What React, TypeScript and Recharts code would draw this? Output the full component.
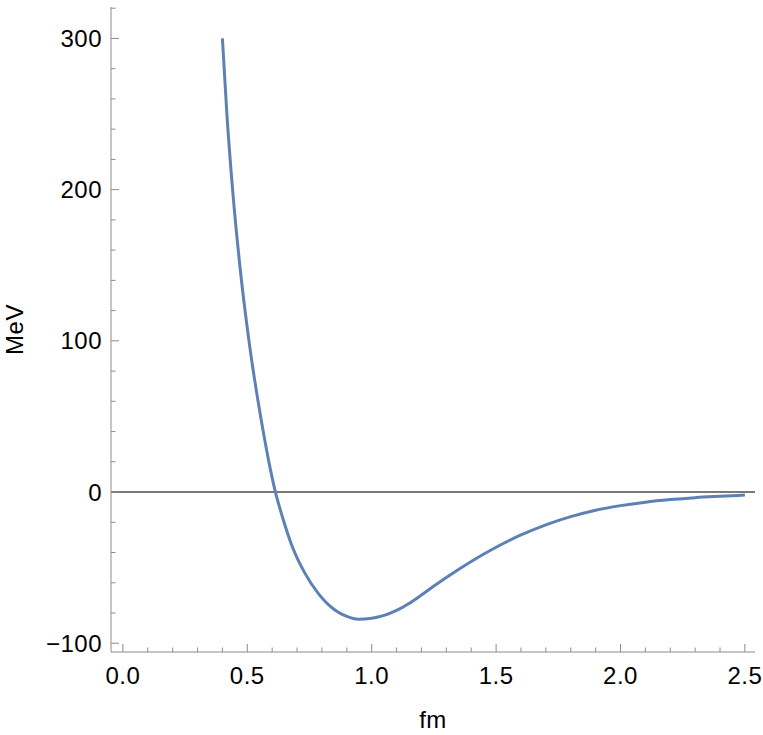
import React from 'react';
import { LineChart, Line, XAxis, YAxis, ReferenceLine, Label } from 'recharts';

const distanceFm = [0.40, 0.418, 0.4409, 0.4699, 0.5067, 0.5536, 0.6131, 0.645, 0.681, 0.732, 0.785, 0.852, 0.90, 0.946, 1.0, 1.05, 1.10, 1.15, 1.20, 1.25, 1.30, 1.40, 1.50, 1.60, 1.70, 1.80, 1.90, 2.00, 2.10, 2.20, 2.30, 2.40, 2.50];
const potentialMeV = [300, 250, 200, 150, 100, 50, 0, -18.5, -36.2, -53.8, -67, -78, -82.3, -84.2, -83.5, -81.6, -78.3, -73.7, -68.1, -62.2, -56.5, -45.9, -36.5, -28.4, -21.7, -16.3, -12.0, -9.0, -6.7, -5.0, -3.7, -2.8, -2.0];

const xMajorTicks = [0, 0.5, 1, 1.5, 2, 2.5];
const xTickLabels = ['0.0', '0.5', '1.0', '1.5', '2.0', '2.5'];
const xMinorTicks = [0.1, 0.2, 0.3, 0.4, 0.6, 0.7, 0.8, 0.9, 1.1, 1.2, 1.3, 1.4, 1.6, 1.7, 1.8, 1.9, 2.1, 2.2, 2.3, 2.4];
const yMajorTicks = [-100, 0, 100, 200, 300];
const yTickLabels = ['\u2212100', '0', '100', '200', '300'];
const yMinorTicks = [-80, -60, -40, -20, 20, 40, 60, 80, 120, 140, 160, 180, 220, 240, 260, 280, 320];

const xLabel = 'fm';
const yLabel = 'MeV';

const data = distanceFm.map((x, i) => ({ x, v: potentialMeV[i] }));
const xAllTicks = [...xMajorTicks, ...xMinorTicks].sort((a, b) => a - b);
const yAllTicks = [...yMajorTicks, ...yMinorTicks].sort((a, b) => a - b);

const FRAME = '#8c8c8c';
const FONT = '"Liberation Sans", Arial, sans-serif';
const FS = 24;
const MAJOR = 8;
const MINOR = 4.5;

const majorIdx = (arr: number[], v: number) => arr.findIndex((m) => Math.abs(m - v) < 1e-6);

const textStyle = { fontFamily: FONT, fontSize: FS, fill: '#000', letterSpacing: 0.5 };

const BottomTick = (props: any) => {
  const { x, y, payload } = props;
  const idx = majorIdx(xMajorTicks, payload.value);
  const major = idx >= 0;
  return (
    <g>
      <line x1={x} x2={x} y1={y} y2={y - (major ? MAJOR : MINOR)} stroke={FRAME} strokeWidth={1} />
      {major && (
        <text x={x} y={y + 32} textAnchor="middle" style={textStyle}>
          {xTickLabels[idx]}
        </text>
      )}
    </g>
  );
};

const TopTick = (props: any) => {
  const { x, y, payload } = props;
  const major = majorIdx(xMajorTicks, payload.value) >= 0;
  return <line x1={x} x2={x} y1={y} y2={y + (major ? MAJOR : MINOR)} stroke={FRAME} strokeWidth={1} />;
};

const LeftTick = (props: any) => {
  const { x, y, payload } = props;
  const idx = majorIdx(yMajorTicks, payload.value);
  const major = idx >= 0;
  return (
    <g>
      <line x1={x} x2={x + (major ? MAJOR : MINOR)} y1={y} y2={y} stroke={FRAME} strokeWidth={1} />
      {major && (
        <text x={x - 9} y={y + 8.5} textAnchor="end" style={textStyle}>
          {yTickLabels[idx]}
        </text>
      )}
    </g>
  );
};

const RightTick = (props: any) => {
  const { x, y, payload } = props;
  const major = majorIdx(yMajorTicks, payload.value) >= 0;
  return <line x1={x} x2={x - (major ? MAJOR : MINOR)} y1={y} y2={y} stroke={FRAME} strokeWidth={1} />;
};

const XLabelContent = (props: any) => {
  const vb = props.viewBox || { x: 111, y: 652, width: 644, height: 83 };
  return (
    <text x={vb.x + vb.width / 2} y={vb.y + 76} textAnchor="middle" style={textStyle}>
      {xLabel}
    </text>
  );
};

const YLabelContent = (props: any) => {
  const vb = props.viewBox || { x: 0, y: 7, width: 111, height: 645 };
  const cy = vb.y + vb.height / 2;
  return (
    <text x={23} y={cy} transform={`rotate(-90, 23, ${cy})`} textAnchor="middle" style={textStyle}>
      {yLabel}
    </text>
  );
};

const X_DOMAIN: [number, number] = [-0.0478, 2.5406];
const Y_DOMAIN: [number, number] = [-105.8, 320.8];

export default function App() {
  return (
    <div style={{ position: 'absolute', left: 0, top: 0, width: 763, height: 735, background: '#fff' }}>
      <LineChart width={763} height={735} data={data} margin={{ top: 7, right: 8, bottom: 0, left: 0 }}>
        <XAxis
          dataKey="x"
          type="number"
          domain={X_DOMAIN}
          ticks={xAllTicks}
          interval={0}
          height={83}
          tickSize={0}
          tickMargin={0}
          tickLine={false}
          tick={<BottomTick />}
          axisLine={{ stroke: FRAME, strokeWidth: 1 }}
          allowDataOverflow
        >
          <Label content={<XLabelContent />} />
        </XAxis>
        <XAxis
          xAxisId="top"
          orientation="top"
          dataKey="x"
          type="number"
          domain={X_DOMAIN}
          ticks={xAllTicks}
          interval={0}
          height={0}
          tickSize={0}
          tickMargin={0}
          tickLine={false}
          tick={<TopTick />}
          axisLine={{ stroke: FRAME, strokeWidth: 1 }}
          allowDataOverflow
        />
        <YAxis
          type="number"
          domain={Y_DOMAIN}
          ticks={yAllTicks}
          interval={0}
          width={111}
          tickSize={0}
          tickMargin={0}
          tickLine={false}
          tick={<LeftTick />}
          axisLine={{ stroke: FRAME, strokeWidth: 1 }}
          allowDataOverflow
        >
          <Label content={<YLabelContent />} />
        </YAxis>
        <YAxis
          yAxisId="right"
          orientation="right"
          type="number"
          domain={Y_DOMAIN}
          ticks={yAllTicks}
          interval={0}
          width={0}
          tickSize={0}
          tickMargin={0}
          tickLine={false}
          tick={<RightTick />}
          axisLine={{ stroke: FRAME, strokeWidth: 1 }}
          allowDataOverflow
        />
        <ReferenceLine y={0} stroke="#4d4d4d" strokeWidth={1.5} />
        <Line
          dataKey="v"
          type="monotone"
          stroke="#5E81B5"
          strokeWidth={3}
          dot={false}
          activeDot={false}
          isAnimationActive={false}
        />
      </LineChart>
    </div>
  );
}
